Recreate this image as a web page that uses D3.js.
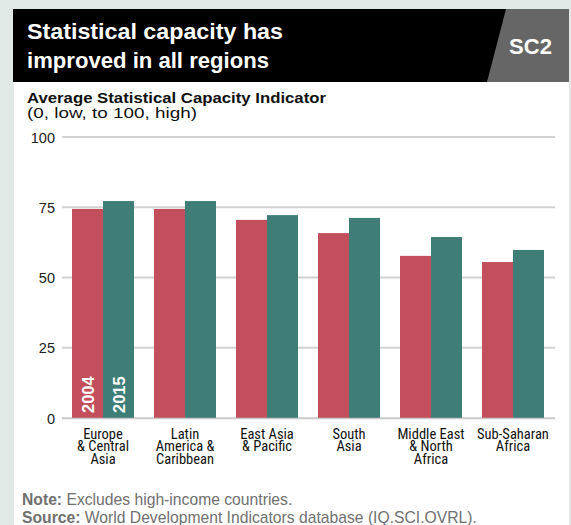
<!DOCTYPE html>
<html><head><meta charset="utf-8">
<script src="https://cdn.jsdelivr.net/npm/d3@7"></script>
<style>
body{margin:0;padding:0;background:#e1e9e6;}
svg{display:block;}
</style></head>
<body>
<svg id="c" width="571" height="525"></svg>
<script>
const categories = [["Europe","& Central","Asia"],["Latin","America &","Caribbean"],["East Asia","& Pacific"],["South","Asia"],["Middle East","& North","Africa"],["Sub-Saharan","Africa"]];
const seriesNames = ["2004","2015"];
const values2004 = [74.4, 74.4, 70.5, 65.8, 57.7, 55.5];
const values2015 = [77.2, 77.2, 72.2, 71.2, 64.4, 59.8];
const yTicks = [0, 25, 50, 75, 100];

const svg = d3.select("#c");
const W = 571, H = 525;
const condensed = "'Liberation Sans Narrow','Roboto Condensed','Arial Narrow',sans-serif";
const sans = "'Liberation Sans','Arial',sans-serif";

svg.append("rect").attr("x",0).attr("y",0).attr("width",W).attr("height",H).attr("fill","#e1e9e6");
svg.append("rect").attr("x",14).attr("y",9).attr("width",555).attr("height",H-9).attr("fill","#ffffff");

// header
svg.append("rect").attr("x",13).attr("y",9).attr("width",556).attr("height",73).attr("fill","#000");
svg.append("path").attr("d","M506,9 L569,9 L569,82 L487,82 Z").attr("fill","#666666");
svg.append("text").attr("x",530.5).attr("y",54).attr("text-anchor","middle").attr("fill","#fff")
  .attr("font-family",sans).attr("font-weight","bold").attr("font-size",22).text("SC2");
const title = svg.append("g").attr("fill","#fff").attr("font-family",sans).attr("font-weight","bold").attr("font-size",22);
title.append("text").attr("x",27).attr("y",39).attr("textLength",256).attr("lengthAdjust","spacingAndGlyphs").text("Statistical capacity has");
title.append("text").attr("x",27).attr("y",68).attr("textLength",242).attr("lengthAdjust","spacingAndGlyphs").text("improved in all regions");

svg.append("text").attr("x",27).attr("y",103).attr("font-family",sans).attr("font-weight","bold").attr("font-size",15.5)
  .attr("fill","#111").attr("textLength",299).attr("lengthAdjust","spacingAndGlyphs").text("Average Statistical Capacity Indicator");
svg.append("text").attr("x",27).attr("y",118).attr("font-family",sans).attr("font-size",15.5)
  .attr("fill","#111").attr("textLength",170).attr("lengthAdjust","spacingAndGlyphs").text("(0, low, to 100, high)");

// scales
const y = d3.scaleLinear().domain([0,100]).range([418,137]);
const x = d3.scaleBand().domain(d3.range(categories.length)).range([62,554]).paddingInner(0.244).paddingOuter(0.122);
const xs = d3.scaleBand().domain(seriesNames).range([0, x.bandwidth()]);
const colors = {"2004":"#c24f5b","2015":"#3f7d77"};

// grid
const yAxis = d3.axisLeft(y).tickValues(yTicks).tickSize(0).tickPadding(0);
const g = svg.append("g").attr("transform","translate(55,0)").call(yAxis);
g.select(".domain").remove();
g.selectAll("text").attr("font-family",sans).attr("font-size",14.5).attr("fill","#222").attr("dy","0.35em");
svg.append("g").selectAll("line").data(yTicks).join("line")
  .attr("x1",62).attr("x2",555).attr("y1",d=>y(d)).attr("y2",d=>y(d))
  .attr("stroke","#d2d2d2").attr("stroke-width",d=>d===0?1.5:2);

// bars
const series = [values2004, values2015];
seriesNames.forEach((s,si)=>{
  svg.append("g").selectAll("rect").data(series[si]).join("rect")
    .attr("x",(d,i)=>x(i)+xs(s)).attr("width",xs.bandwidth())
    .attr("y",d=>y(d)).attr("height",d=>y(0)-y(d)).attr("fill",colors[s]);
});
// axis baseline
svg.append("line").attr("x1",62).attr("x2",555).attr("y1",y(0)+0.5).attr("y2",y(0)+0.5).attr("stroke","#c8c8c8").attr("stroke-width",1.5);

// in-bar labels
seriesNames.forEach(s=>{
  const cx = x(0)+xs(s)+xs.bandwidth()/2;
  svg.append("text").attr("transform",`translate(${cx+6.5},${y(0)-5}) rotate(-90)`)
    .attr("fill","#fff").attr("font-family",sans).attr("font-weight","bold").attr("font-size",16.5).text(s);
});

// category labels
categories.forEach((lines,i)=>{
  const t = svg.append("text").attr("text-anchor","middle").attr("font-family",condensed).attr("font-size",14.5).attr("fill","#111");
  lines.forEach((ln,j)=>{
    t.append("tspan").attr("x",x(i)+x.bandwidth()/2).attr("y",438.5+j*12.8).text(ln);
  });
});

// footnotes
const n1 = svg.append("text").attr("x",22).attr("y",505).attr("font-family",sans).attr("font-size",15.7).attr("fill","#707070");
n1.append("tspan").attr("font-weight","bold").text("Note:");
n1.append("tspan").text(" Excludes high-income countries.");
const n2 = svg.append("text").attr("x",22).attr("y",523).attr("font-family",sans).attr("font-size",15.7).attr("fill","#707070");
n2.append("tspan").attr("font-weight","bold").text("Source:");
n2.append("tspan").text(" World Development Indicators database (IQ.SCI.OVRL).");
</script>
</body></html>
